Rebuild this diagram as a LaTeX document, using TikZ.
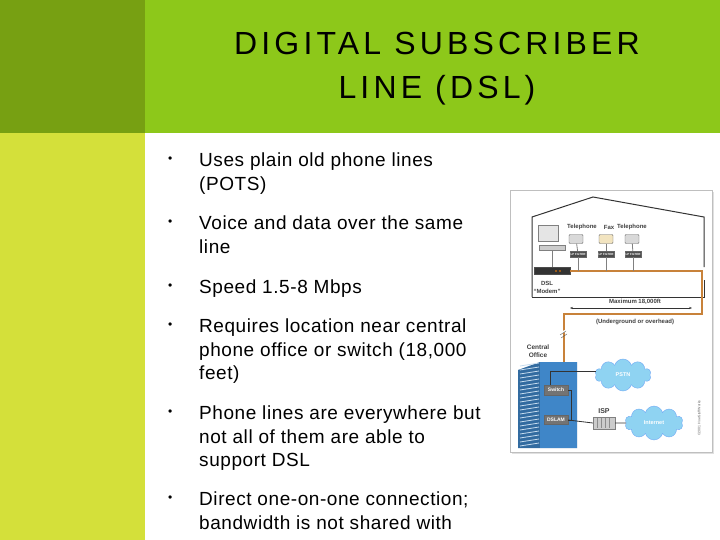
\documentclass[tikz,border=0pt]{standalone}
\usepackage{fontspec}
\setmainfont{Liberation Sans}
\usetikzlibrary{shapes.symbols,arrows.meta}
\definecolor{dkgreen}{HTML}{77A012}
\definecolor{band}{HTML}{8DC81A}
\definecolor{lime}{HTML}{D4E03A}
\definecolor{wire}{HTML}{C8823A}
\definecolor{bldg}{HTML}{3F86C8}
\definecolor{cloudc}{HTML}{8FD3F2}
\tikzset{
 bul/.style={anchor=north west,align=left,font=\fontsize{19}{23.5}\selectfont\addfontfeature{LetterSpace=3},inner sep=0pt},
 dot/.style={anchor=north west,inner sep=0pt,font=\fontsize{12}{18}\selectfont},
 tiny/.style={font=\bfseries\fontsize{6}{7}\selectfont,inner sep=0pt,text=black!75},
 filt/.style={draw=black!60,fill=black!70,minimum width=16pt,minimum height=6pt,inner sep=0pt,font=\bfseries\fontsize{3}{3}\selectfont,text=white},
 phone/.style={draw=black!60,fill=black!15,minimum width=14pt,minimum height=9pt,inner sep=0pt,rounded corners=1pt},
 cl/.style={cloud,cloud puffs=10,draw=cloudc!80!blue,fill=cloudc,inner sep=0pt,font=\bfseries\fontsize{5.5}{6}\selectfont,text=white},
 wirel/.style={wire,line width=1.6pt},
 conn/.style={black!80,line width=0.8pt},
}
\begin{document}
\begin{tikzpicture}[x=1pt,y=-1pt]
\useasboundingbox (0,0) rectangle (720,540);
\fill[white] (0,0) rectangle (720,540);
\fill[dkgreen] (0,0) rectangle (145,133);
\fill[lime] (0,133) rectangle (145,540);
\fill[band] (145,0) rectangle (720,133);
\node[align=center,font=\fontsize{32}{44}\selectfont] (title) at (437,69) {\addfontfeature{LetterSpace=13}DIGITAL SUBSCRIBER\\\addfontfeature{LetterSpace=13}LINE (DSL)};
% bullets
\foreach \y/\t [count=\i] in {153/{Uses plain old phone lines\\(POTS)},216/{Voice and data over the same\\line},280/{Speed 1.5-8 Mbps},319/{Requires location near central\\phone office or switch (18,000\\feet)},406/{Phone lines are everywhere but\\not all of them are able to\\support DSL},492/{Direct one-on-one connection;\\bandwidth is not shared with}}{
 \node[dot] (d\i) at (168,\y+4) {•};
 \node[bul] (b\i) at (199,\y) {\t};
}
% figure frame
\fill[black!12] (512,192) rectangle (714,454);
\node[draw=black!25,fill=white,minimum width=202pt,minimum height=262pt,inner sep=0pt] (frame) at (611,321) {};
% house
\draw[black!80,line width=1pt] (532,297) -- (532,217) -- (593,197) -- (704,217) -- (704,267);
\draw[black!80,line width=1pt] (704,280) -- (704,297) -- (532,297);
% computer
\node[draw=black!50,fill=black!10,minimum width=20pt,minimum height=16pt,inner sep=0pt] (pc) at (548,233) {};
\node[draw=black!50,fill=black!20,minimum width=26pt,minimum height=5pt,inner sep=0pt] (kb) at (552,248) {};
% labels
\node[tiny] (lt1) at (582,227) {Telephone};
\node[tiny] (lfax) at (609,227) {Fax};
\node[tiny] (lt2) at (632,227) {Telephone};
\node[phone] (p1) at (576,239) {};
\node[phone,fill=yellow!30!brown!30] (p2) at (606,239) {};
\node[phone] (p3) at (632,239) {};
\node[filt] (f1) at (578,254) {LP FILTER};
\node[filt] (f2) at (606,254) {LP FILTER};
\node[filt] (f3) at (633,254) {LP FILTER};
\draw[conn,black!50] (p1) -- (f1); \draw[conn,black!50] (p2) -- (f2); \draw[conn,black!50] (p3) -- (f3);
\node[draw=black!70,fill=black!80,minimum width=36pt,minimum height=7pt,inner sep=0pt] (modem) at (552,271) {};
\fill[orange] (556,271) circle (0.8) (560,271) circle (0.8);
\draw[black!50,line width=0.8pt] (kb) -- (modem);
\node[tiny,align=center,font=\bfseries\fontsize{6}{8}\selectfont] (dsl) at (547,287) {DSL\\``Modem''};
% wire
\coordinate (w1) at (702,271);
\coordinate (w2) at (702,314);
\coordinate (w3) at (564,314);
\draw[wirel] (modem.east) -- (w1) -- (w2) -- (w3) -- (564,362);
\draw[black!50,line width=0.6pt] (f1) -- (578,271) (f2) -- (606,271) (f3) -- (633,271);
\draw[white,line width=2pt] (561,333) -- (567,330);
\draw[black!70,line width=0.4pt] (560,335) -- (566,331) (561,338) -- (567,334);
% maximum
\coordinate (ma) at (570,308); \coordinate (mb) at (692,308);
\draw[black!80,line width=0.6pt,{Stealth[length=3pt]}-{Stealth[length=3pt]}] (ma) -- (mb);
\node[tiny,fill=white,inner sep=0.5pt] (maxl) at (635,302) {Maximum 18,000ft};
\node[tiny] (under) at (635,322) {(Underground or overhead)};
% central office
\node[tiny,align=center,font=\bfseries\fontsize{6.5}{8}\selectfont] (co) at (538,351) {Central\\Office};
\fill[bldg!80!black] (518,370) -- (540,362) -- (577,362) -- (577,448) -- (518,448) -- cycle;
\fill[bldg] (540,362) rectangle (577,448);
\foreach \yy in {366,370,...,446}{\draw[white!70!bldg,line width=0.8pt] (520,\yy) -- (539,\yy-3);}
\node[draw=black!60,fill=black!55,minimum width=24pt,minimum height=10pt,inner sep=0pt,font=\bfseries\fontsize{5}{6}\selectfont,text=white] (sw) at (556,390) {Switch};
\node[draw=black!60,fill=black!55,minimum width=24pt,minimum height=9pt,inner sep=0pt,font=\bfseries\fontsize{5}{6}\selectfont,text=white] (dslam) at (556,420) {DSLAM};
\node[cl,minimum width=56pt,minimum height=32pt] (pstn) at (623,375) {PSTN};
\node[cl,minimum width=58pt,minimum height=32pt] (inet) at (654,423) {Internet};
\node[draw=black!50,fill=black!20,minimum width=22pt,minimum height=12pt,inner sep=0pt] (isp) at (604,423) {};
\foreach \xx in {597,601,...,612}{\draw[black!45] (\xx,418) -- (\xx,428);}
\node[tiny,font=\bfseries\fontsize{7}{8}\selectfont] (ispl) at (604,411) {ISP};
\draw[conn] (sw.north east) ++(-18,0) -- ++(0,-13) coordinate (c1) -- (pstn.west |- c1);
\draw[conn] (sw.east) -- ++(3,0) |- (dslam.east);
\draw[conn] (dslam.east) -- (isp.west);
\draw[conn] (isp.east) -- (inet.west);
\node[rotate=90,font=\fontsize{3.5}{4}\selectfont,text=black!60,inner sep=0pt] (copy) at (699,418) {©2001 HowStuffWorks};
\end{tikzpicture}
\end{document}
